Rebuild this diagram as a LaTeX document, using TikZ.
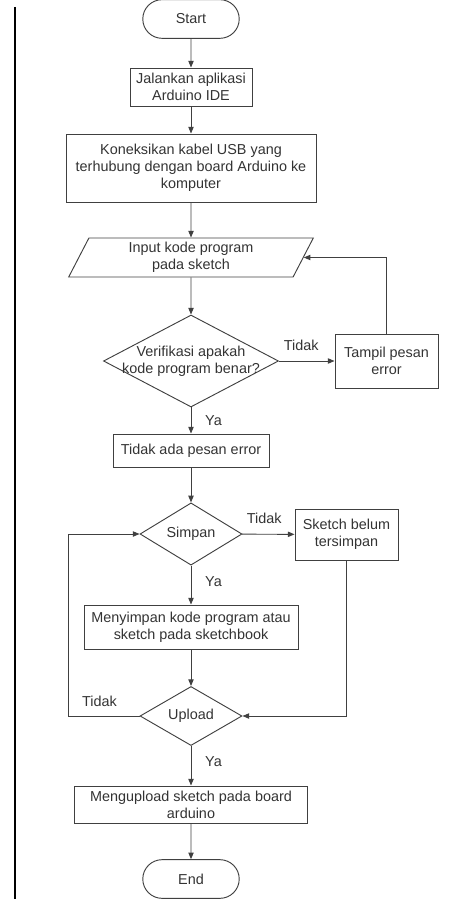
\documentclass[tikz,border=0pt]{standalone}
\usepackage{fontspec}
\setmainfont{Liberation Sans}
\usepackage{xcolor}
\usepackage{tikz}
\usetikzlibrary{shapes,arrows.meta,positioning}

\begin{document}
\begin{tikzpicture}[
                x=0.75pt, y=-0.75pt,
                font=\fontsize{10.8}{12.6}\selectfont,
                every node/.style={text=black!80},
                ink/.style={draw=black!75, line width=0.7pt},
                process/.style={ink, rectangle, align=center, inner sep=1pt},
                terminal/.style={ink, rounded rectangle, minimum width=79pt, minimum height=29pt},
                decision/.style={ink, diamond, align=center, inner sep=0pt},
                inputbox/.style={ink, trapezium, trapezium left angle=69,
                    trapezium right angle=111, trapezium stretches=true,
                    align=center, inner sep=1pt},
                flow/.style={ink, -{Triangle[length=5pt,width=4pt]}}
            ]

                \useasboundingbox (0,0) rectangle (468,899);

                % margin line
                \draw[line width=1.4pt] (15,7) -- (15,899);

                % main column
                \node[terminal] (start) at (191,19) {Start};
                \node[process, minimum width=91.5pt, minimum height=28.5pt] (jalankan) at (191,87)
                    {Jalankan aplikasi\\Arduino IDE};
                \node[process, minimum width=187.5pt, minimum height=51pt] (koneksi) at (191,168)
                    {Koneksikan kabel USB yang\\terhubung dengan board Arduino ke\\komputer};
                \node[inputbox, minimum width=183.75pt, minimum height=29.25pt] (input) at (191,257.5)
                    {Input kode program\\pada sketch};
                \node[decision, minimum width=131.25pt, minimum height=69pt,
                    label={[align=center]center:Verifikasi apakah\\kode program benar?}] (verif) at (191,361) {};
                \node[process, minimum width=77.25pt, minimum height=40.5pt] (tampil) at (386.5,361)
                    {Tampil pesan\\error};
                \node[process, minimum width=117pt, minimum height=24.75pt] (tidakada) at (191,450.5)
                    {Tidak ada pesan error};
                \node[decision, minimum width=76.5pt, minimum height=44.25pt] (simpan) at (191,534) {Simpan};
                \node[process, minimum width=77.25pt, minimum height=38.25pt] (belum) at (346.5,534.5)
                    {Sketch belum\\tersimpan};
                \node[process, minimum width=160.5pt, minimum height=33pt] (menyimpan) at (191,627)
                    {Menyimpan kode program atau\\sketch pada sketchbook};
                \node[decision, minimum width=76.5pt, minimum height=43.5pt] (upload) at (191,716) {Upload};
                \node[process, minimum width=174.75pt, minimum height=27.75pt] (mengupload) at (191,804.5)
                    {Mengupload sketch pada board\\arduino};
                \node[terminal] (end) at (191,879) {End};

                \coordinate (loopL) at (68,716);

                % connectors
                \draw[flow] (start) -- (jalankan);
                \draw[flow] (jalankan) -- (koneksi);
                \draw[flow] (koneksi) -- (input);
                \draw[flow] (input) -- (verif);
                \draw[flow] (verif) -- node[pos=0.4, above=4pt] {Tidak} (tampil);
                \draw[flow] (tampil.north) |- (input.east);
                \draw[flow] (verif) -- node[midway, right=7pt] {Ya} (tidakada);
                \draw[flow] (tidakada) -- (simpan);
                \draw[flow] (simpan) -- node[pos=0.42, above=4pt] {Tidak} (belum);
                \draw[flow] (simpan) -- node[pos=0.4, right=7pt] {Ya} (menyimpan);
                \draw[flow] (menyimpan) -- (upload);
                \draw[flow] (belum.south) |- (upload.east);
                \draw[flow] (upload.west) -- node[pos=0.56, above=3.5pt] {Tidak} (loopL) |- (simpan.west);
                \draw[flow] (upload) -- node[pos=0.4, right=7pt] {Ya} (mengupload);
                \draw[flow] (mengupload) -- (end);

\end{tikzpicture}
\end{document}
